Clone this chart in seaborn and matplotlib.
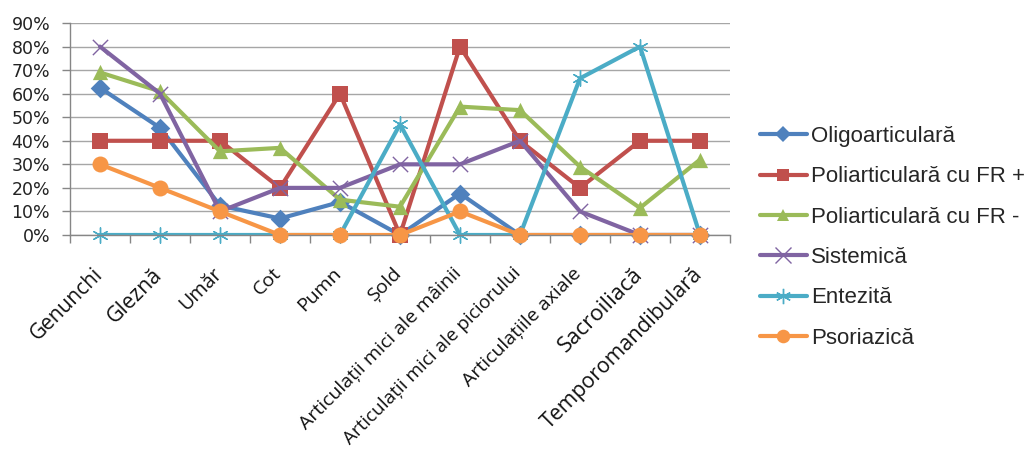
import matplotlib
matplotlib.use("Agg")
import matplotlib.pyplot as plt
from matplotlib.lines import Line2D
from matplotlib.ticker import PercentFormatter, FixedLocator
from matplotlib.transforms import ScaledTranslation
import seaborn as sns
import pandas as pd
import numpy as np

categories = ["Genunchi", "Gleznă", "Umăr", "Cot", "Pumn", "Șold",
              "Articulații mici ale mâinii", "Articulații mici ale piciorului",
              "Articulațiile axiale", "Sacroiliacă", "Temporomandibulară"]

oligo = [0.625, 0.455, 0.125, 0.07, 0.14, 0.0, 0.176, 0.0, 0.0, 0.0, 0.0]
poli_plus = [0.40, 0.40, 0.40, 0.20, 0.60, 0.0, 0.80, 0.40, 0.20, 0.40, 0.40]
poli_minus = [0.69, 0.61, 0.355, 0.37, 0.15, 0.12, 0.545, 0.53, 0.29, 0.115, 0.32]
sistemica = [0.80, 0.60, 0.10, 0.20, 0.20, 0.30, 0.30, 0.40, 0.10, 0.0, 0.0]
entezita = [0.0, 0.0, 0.0, 0.0, 0.0, 0.47, 0.0, 0.0, 0.665, 0.80, 0.0]
psoriazica = [0.30, 0.20, 0.10, 0.0, 0.0, 0.0, 0.10, 0.0, 0.0, 0.0, 0.0]

series_names = ["Oligoarticulară", "Poliarticulară cu FR +", "Poliarticulară cu FR -",
                "Sistemică", "Entezită", "Psoriazică"]
series_values = [oligo, poli_plus, poli_minus, sistemica, entezita, psoriazica]

colors = ["#4F81BD", "#C0504D", "#9BBB59", "#8064A2", "#4BACC6", "#F79646"]
markers = ["D", "s", "^", "x", (6, 2, 0), "o"]
msizes = [10, 11, 11, 11, 11, 11.5]

rows = []
for name, vals in zip(series_names, series_values):
    for i, (c, v) in enumerate(zip(categories, vals)):
        rows.append({"series": name, "pos": i, "category": c, "value": v})
df = pd.DataFrame(rows)

sns.set_theme(style="white")
plt.rcParams["font.family"] = ["Open Sans", "DejaVu Sans"]

fig = plt.figure(figsize=(10.28, 4.5), dpi=100)
ax = fig.add_axes([70 / 1028, 1 - 235 / 450, 660 / 1028, 212 / 450])

handles = []
for k, name in enumerate(series_names):
    sub = df[df["series"] == name]
    sns.lineplot(data=sub, x="pos", y="value", color=colors[k], lw=3,
                 ax=ax, legend=False, sort=False, zorder=2 + k * 0.1)
    filled = markers[k] not in ("x",) and markers[k] != (6, 2, 0)
    if filled:
        sns.scatterplot(data=sub, x="pos", y="value", marker=markers[k],
                        s=msizes[k] ** 2, color=colors[k], edgecolor=colors[k],
                        linewidth=0, ax=ax, legend=False, clip_on=False,
                        zorder=2 + k * 0.1 + 0.05)
    else:
        sns.scatterplot(data=sub, x="pos", y="value", marker=markers[k],
                        s=msizes[k] ** 2, color=colors[k], linewidth=1.0,
                        ax=ax, legend=False, clip_on=False,
                        zorder=2 + k * 0.1 + 0.05)
    handles.append(Line2D([0], [0], color=colors[k], lw=3, marker=markers[k],
                          markersize=msizes[k] * 0.85 if filled else msizes[k],
                          markerfacecolor=colors[k], markeredgecolor=colors[k],
                          markeredgewidth=0 if filled else 1.0))

ax.set_xlim(-0.5, len(categories) - 0.5)
ax.set_ylim(0, 0.9)
ax.set_yticks(np.arange(0, 0.91, 0.1))
ax.yaxis.set_major_formatter(PercentFormatter(1.0, decimals=0))
ax.set_xlabel("")
ax.set_ylabel("")

ax.grid(axis="y", color="#A6A6A6", lw=1)
ax.grid(axis="x", visible=False)
ax.set_axisbelow(True)
for s in ["top", "right"]:
    ax.spines[s].set_visible(False)
for s in ["left", "bottom"]:
    ax.spines[s].set_color("#868686")
    ax.spines[s].set_linewidth(1)

ax.tick_params(axis="y", length=5.8, width=1, color="#868686", pad=8.5,
               labelsize=12.5, labelcolor="#222222", left=True)
for lab in ax.get_yticklabels():
    lab.set_fontfamily(["DejaVu Sans"])
ax.set_xticks(range(len(categories)))
ax.tick_params(axis="x", which="major", length=0, pad=21, labelcolor="#111111")
ax.set_xticklabels(categories, rotation=45, ha="right", va="top",
                   rotation_mode="anchor")
ax.xaxis.set_minor_locator(FixedLocator(np.arange(-0.5, len(categories), 1.0)))
ax.tick_params(axis="x", which="minor", length=6, width=1, color="#868686",
               bottom=True, direction="out")

label_sizes = [15, 15.4, 14.2, 14, 14, 14, 14, 13.6, 14, 16, 15.3]
shift = ScaledTranslation(-8 / 100, 0, fig.dpi_scale_trans)
for lab, fs in zip(ax.get_xticklabels(), label_sizes):
    lab.set_fontsize(fs)
    lab.set_transform(lab.get_transform() + shift)

fig.legend(handles=handles, labels=series_names, loc="upper left",
           bbox_to_anchor=(760 / 1028, 1 - 126 / 450), frameon=False,
           prop={"family": ["Liberation Sans", "DejaVu Sans"], "size": 16},
           handlelength=2.1, handletextpad=0.2, labelspacing=0.87,
           borderpad=0, borderaxespad=0)

fig.savefig("out.png", dpi=100)
